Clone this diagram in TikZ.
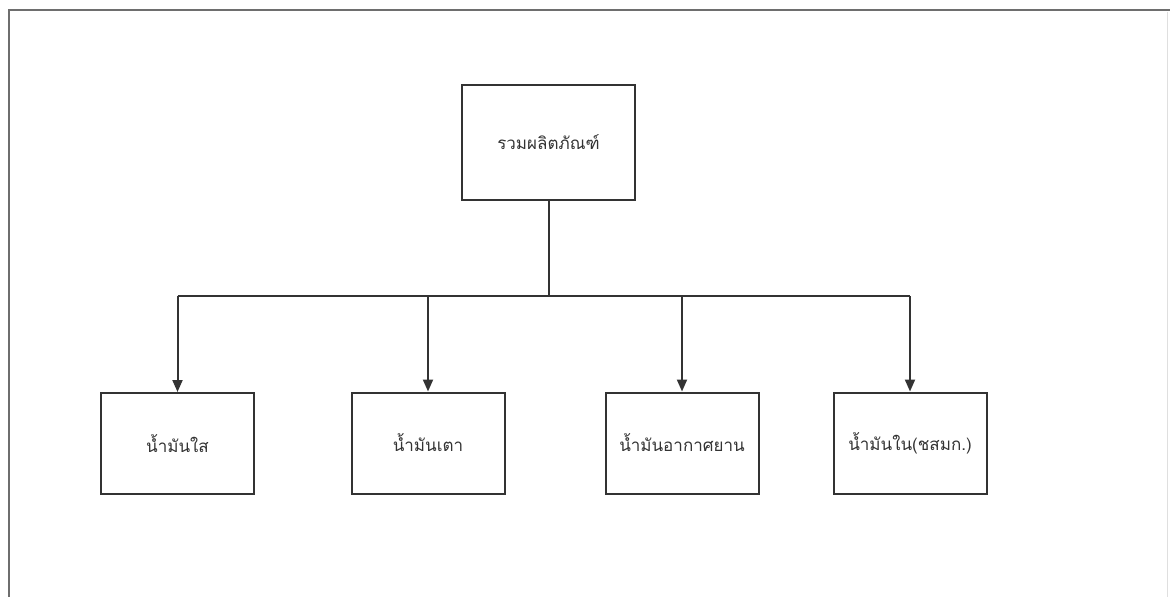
\documentclass[tikz,border=0pt]{standalone}
\usepackage{fontspec}
\newfontfamily\thaifont[Script=Thai]{Loma}
\usetikzlibrary{arrows.meta}
\definecolor{ink}{HTML}{333333}
\definecolor{framegray}{HTML}{6E6E6E}
\begin{document}
\begin{tikzpicture}[x=1pt,y=-1pt,
  catbox/.style={draw=ink,line width=2pt,fill=white,minimum width=153pt,minimum height=101pt,
    font=\thaifont\fontsize{17}{20}\selectfont,text=ink,inner sep=0pt},
  topbox/.style={catbox,minimum width=173pt,minimum height=115pt},
  link/.style={draw=ink,line width=2pt},
  arrowlink/.style={link,-{Triangle[width=10pt,length=12pt]}}]
  % page area and frame
  \useasboundingbox[fill=white] (0,0) rectangle (1170,597);
  \draw[framegray,line width=2pt] (9,597) -- (9,10) -- (1170,10);
  \draw[gray!25,line width=1pt] (1167,12) -- (1167,597);

  % root node
  \node[topbox] (root) at (548.5,142.5) {รวมผลิตภัณฑ์};

  % product categories
  \node[catbox] (b1) at (177.5,443.5) {น้ำมันใส};
  \node[catbox] (b2) at (428,443) {น้ำมันเตา};
  \node[catbox] (b3) at (682,443) {น้ำมันอากาศยาน};
  \node[catbox] (b4) at (910,443) {น้ำมันใน(ชสมก.)};

  % connectors
  \coordinate (bus) at (548.5,296);
  \draw[link] (root.south) -- (bus);
  \draw[link] (bus -| b1.north) -- (bus -| b4.north);
  \foreach \n in {b1,b2,b3,b4}
    \draw[arrowlink] (bus -| \n.north) -- (\n.north);
\end{tikzpicture}
\end{document}
